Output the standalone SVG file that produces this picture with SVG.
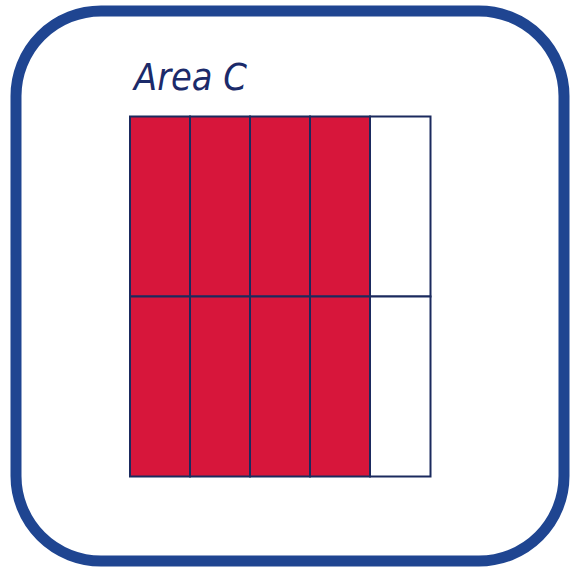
<svg xmlns="http://www.w3.org/2000/svg" width="570" height="569" viewBox="0 0 570 569">
<style>
.cell{stroke:#1b2a5e;stroke-width:2}
.red{fill:#d7163b}
.white{fill:#ffffff}
</style>
<rect width="570" height="569" fill="#ffffff"/>
<rect id="frame" x="16" y="11" width="548" height="550" rx="85" ry="85" fill="#ffffff" stroke="#1f4591" stroke-width="11"/>
<text id="title" x="134" y="90" font-family="'DejaVu Sans', sans-serif" font-style="italic" font-size="38" fill="#1b2a6a" textLength="113" lengthAdjust="spacingAndGlyphs">Area C</text>
<g id="grid">
<rect class="cell red" x="130" y="116.5" width="60" height="180"/>
<rect class="cell red" x="190" y="116.5" width="60" height="180"/>
<rect class="cell red" x="250" y="116.5" width="60" height="180"/>
<rect class="cell red" x="310" y="116.5" width="60" height="180"/>
<rect class="cell white" x="370" y="116.5" width="60.5" height="180"/>
<rect class="cell red" x="130" y="296.5" width="60" height="180"/>
<rect class="cell red" x="190" y="296.5" width="60" height="180"/>
<rect class="cell red" x="250" y="296.5" width="60" height="180"/>
<rect class="cell red" x="310" y="296.5" width="60" height="180"/>
<rect class="cell white" x="370" y="296.5" width="60.5" height="180"/>
</g>
</svg>
